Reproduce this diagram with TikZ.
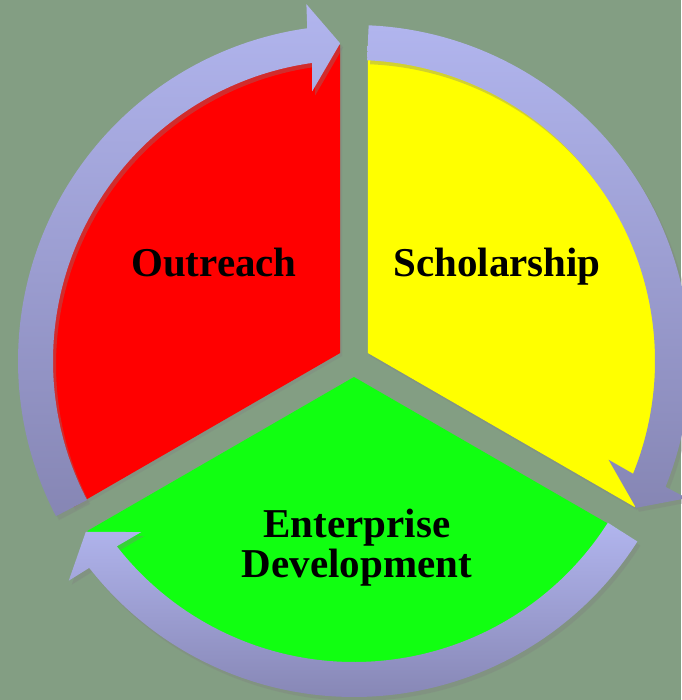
\documentclass[tikz,border=0pt]{standalone}
\usepackage{fontspec}
\setmainfont{Liberation Serif}
\usetikzlibrary{shadows}
\definecolor{CyBack}{HTML}{839E83}
\definecolor{CyRed}{HTML}{FF0000}
\definecolor{CyYellow}{HTML}{FFFF00}
\definecolor{CyGreen}{HTML}{11FF11}
\definecolor{CyRingTop}{HTML}{B1B5EE}
\definecolor{CyRingBot}{HTML}{8686B4}

\begin{document}
\begin{tikzpicture}[x=0.5pt,y=0.5pt,
  seg/.style={drop shadow={opacity=0.3,shadow xshift=1pt,shadow yshift=-1.5pt}},
  ring/.style={top color=CyRingTop,bottom color=CyRingBot,drop shadow={opacity=0.35,shadow xshift=1.5pt,shadow yshift=-2pt}},
  lbl/.style={anchor=base,align=center,font=\fontsize{20.5}{20}\selectfont\bfseries}]
\fill[CyBack] (-354,-339) rectangle (327,361);
\useasboundingbox (-354,-339) rectangle (327,361);
% the three segments, pulled apart from the middle
\fill[seg,CyRed] (150:16) -- ++(90:308) arc[start angle=90,end angle=210,radius=308] -- cycle;
\fill[seg,CyYellow] (30:16) -- ++(-30:308) arc[start angle=-30,end angle=90,radius=308] -- cycle;
\fill[seg,CyGreen] (270:16) -- ++(210:308) arc[start angle=210,end angle=330,radius=308] -- cycle;
% curved arrows round the rim, clockwise
\path[ring] (207.5:336) arc[start angle=207.5,end angle=98,radius=336] -- (97.6:360) -- (92.5:318) -- (98.8:273) -- (98:301) arc[start angle=98,end angle=207.5,radius=301] -- cycle;
\path[ring] (87.5:336) arc[start angle=87.5,end angle=-22,radius=336] -- (-22.4:360) -- (-27.5:318) -- (-21.2:273) -- (-22:301) arc[start angle=-22,end angle=87.5,radius=301] -- cycle;
\path[ring] (327.5:336) arc[start angle=327.5,end angle=218,radius=336] -- (217.6:360) -- (212.5:318) -- (218.8:273) -- (218:301) arc[start angle=218,end angle=327.5,radius=301] -- cycle;
% labels
\node[lbl] (outreach) at (-140,84) {Outreach};
\node[lbl] (scholar) at (143,84) {Scholarship};
\node[lbl] (enterprise) at (3,-216) {Enterprise\\Development};
\end{tikzpicture}
\end{document}
